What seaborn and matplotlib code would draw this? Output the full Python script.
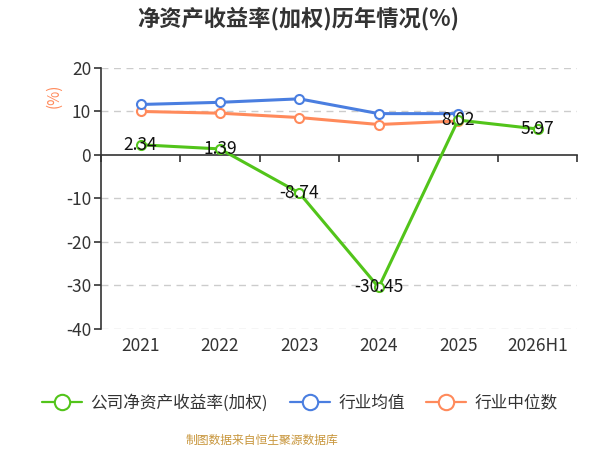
import matplotlib
matplotlib.use("Agg")
import matplotlib.pyplot as plt
import seaborn as sns
import numpy as np
import pandas as pd

years = ["2021", "2022", "2023", "2024", "2025", "2026H1"]
company = [2.34, 1.39, -8.74, -30.45, 8.02, 5.97]
industry_mean = [11.6, 12.1, 12.9, 9.5, 9.5, np.nan]
industry_median = [10.0, 9.6, 8.6, 7.0, 7.8, np.nan]
series_names = ["公司净资产收益率(加权)", "行业均值", "行业中位数"]
colors = ["#52C41A", "#4A7EE0", "#FF8A5B"]

sns.set_theme(style="white")
plt.rcParams['font.family'] = ['Noto Sans CJK SC', 'DejaVu Sans']
plt.rcParams['axes.unicode_minus'] = False

fig = plt.figure(figsize=(6, 4.5), dpi=100)
ax = fig.add_axes([0.168, 0.269, 0.794, 0.58])

x = np.arange(len(years))
df = pd.DataFrame({"x": x, series_names[0]: company,
                   series_names[1]: industry_mean, series_names[2]: industry_median})

zorders = [5, 4, 3]
for name, col, z in zip(series_names, colors, zorders):
    sns.lineplot(data=df, x="x", y=name, ax=ax, color=col, linewidth=2.2,
                 marker="o", markersize=6.5, markerfacecolor="white",
                 markeredgecolor=col, markeredgewidth=1.5, label=name, zorder=z)

for xi, v in zip(x, company):
    ax.text(xi, v, f"{v:.2f}", ha="center", va="center", fontsize=12.5,
            color="#111111", zorder=10)

ax.set_xlim(-0.5, len(years) - 0.5)
ax.set_ylim(-40, 20)
ax.set_yticks(np.arange(-40, 21, 10))
for yv in np.arange(-40, 21, 10):
    if yv != 0:
        ax.axhline(yv, color="#CCCCCC", linestyle=(0, (5, 4)), linewidth=1, zorder=0)

for s in ["top", "right"]:
    ax.spines[s].set_visible(False)
ax.spines["left"].set_color("#333333")
ax.spines["left"].set_linewidth(1.2)
ax.spines["bottom"].set_position(("data", 0))
ax.spines["bottom"].set_color("#333333")
ax.spines["bottom"].set_linewidth(1.2)
ax.set_xticks(np.arange(-0.5, len(years), 1.0))
ax.set_xticklabels([])
ax.tick_params(axis="x", bottom=True, direction="out", length=5, width=1.2, color="#333333")
ax.tick_params(axis="y", left=True, direction="out", length=5, width=1.2, color="#333333",
               labelsize=12.5, labelcolor="#333333", pad=2)
ax.set_xlabel("")
ax.set_ylabel("(%)", color="#FF8A5B", fontsize=11, labelpad=2)
ax.yaxis.set_label_coords(-0.08, 0.895)

sec = ax.secondary_xaxis(0)
sec.set_xticks(x)
sec.set_xticklabels(years)
sec.tick_params(length=0, labelsize=12.5, labelcolor="#333333", pad=6)
sec.spines["bottom"].set_visible(False)

ax.get_legend().remove()
h, l = ax.get_legend_handles_labels()
leg = fig.legend(h, l, loc="center", bbox_to_anchor=(0.5, 0.105), ncol=3, frameon=False,
                 fontsize=12, handlelength=2.4, columnspacing=1.3, handletextpad=0.5,
                 markerscale=1.7, labelcolor="#333333")
for lh in leg.get_lines():
    lh.set_linewidth(1.6)

fig.text(0.497, 0.958, "净资产收益率(加权)历年情况(%)", ha="center", va="center",
         fontsize=16, fontweight="bold", color="#333333")
fig.text(0.437, 0.022, "制图数据来自恒生聚源数据库", ha="center", va="center",
         fontsize=8.5, color="#C8963C")

fig.savefig("out.png", dpi=100)
